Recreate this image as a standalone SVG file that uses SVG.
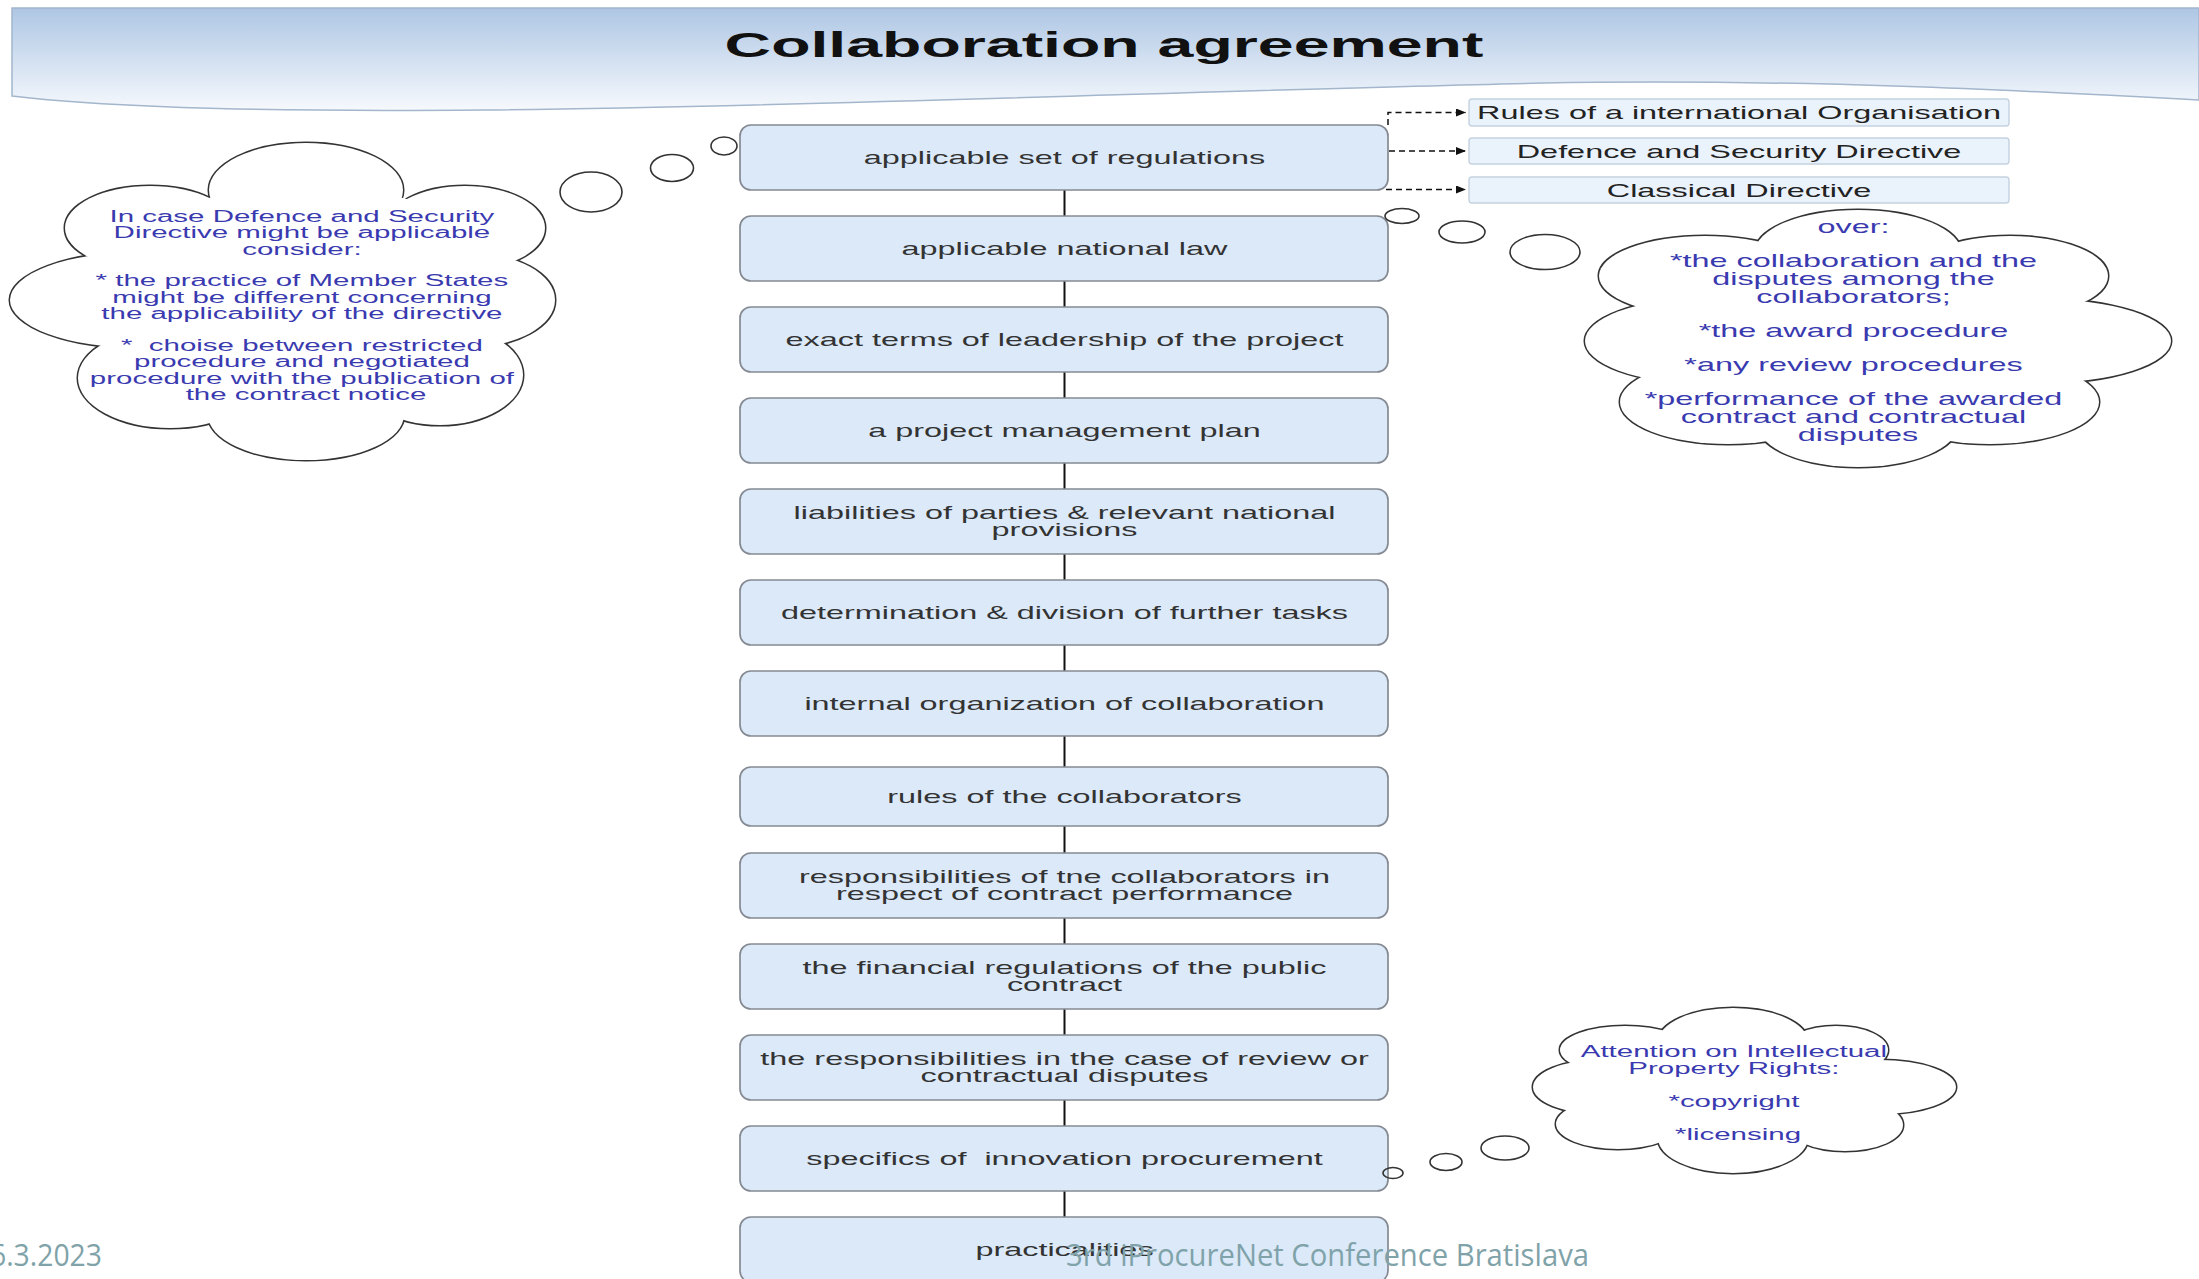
<svg xmlns="http://www.w3.org/2000/svg" xmlns:xlink="http://www.w3.org/1999/xlink" width="2199" height="1279" viewBox="0 0 2199 1279">
<style>
  .box{fill:#dbe9f9;stroke:#858a92;stroke-width:1.7}
  .rbox{fill:#eaf2fb;stroke:#c5d2e0;stroke-width:1.4}
  .bt{font-family:"Liberation Sans",Arial,sans-serif;font-size:17.8px;fill:#333;text-anchor:middle}
  .rt{font-family:"Liberation Sans",Arial,sans-serif;font-size:17.8px;fill:#222;text-anchor:middle}
  .ct{font-family:"Liberation Sans",Arial,sans-serif;font-size:16.2px;fill:#3a3ab0;text-anchor:middle}
  .ctl{font-family:"Liberation Sans",Arial,sans-serif;font-size:17.8px;fill:#3a3ab0;text-anchor:middle}
  .title{font-family:"Liberation Sans",Arial,sans-serif;font-size:35.4px;font-weight:bold;fill:#111;text-anchor:middle}
  .footer{font-family:"Open Sans","Liberation Sans",sans-serif;font-size:31px;fill:#7fa3a9}
  .conn{stroke:#111;stroke-width:2;fill:none}
  .dash{stroke:#111;stroke-width:1.5;stroke-dasharray:6 4;fill:none}
  .cloud-stroke{fill:#fff;stroke:#333;stroke-width:3}
  .cloud-fill{fill:#fff;stroke:none}
  .bubble{fill:none;stroke:#333;stroke-width:1.6}
</style>
<defs>
  <linearGradient id="bannerGrad" x1="0" y1="0" x2="0" y2="1">
    <stop offset="0" stop-color="#aec6e4"/>
    <stop offset="1" stop-color="#f6f9fd"/>
  </linearGradient>
  <marker id="arrow" viewBox="0 0 10 8" refX="10" refY="4" markerWidth="11" markerHeight="8" markerUnits="userSpaceOnUse" orient="auto">
    <path d="M0,0 L10,4 L0,8 z" fill="#111"/>
  </marker>
  <g id="lobesL">
    <ellipse cx="306" cy="190" rx="97" ry="47"/>
    <ellipse cx="465" cy="228" rx="80" ry="42"/>
    <ellipse cx="470" cy="300" rx="85" ry="47"/>
    <ellipse cx="440" cy="375" rx="83" ry="50"/>
    <ellipse cx="306" cy="415" rx="98" ry="45"/>
    <ellipse cx="170" cy="378" rx="92" ry="50"/>
    <ellipse cx="140" cy="300" rx="130" ry="48"/>
    <ellipse cx="150" cy="228" rx="85" ry="42"/>
  </g>
  <g id="lobesR">
    <ellipse cx="1858" cy="252" rx="103" ry="42"/>
    <ellipse cx="2010" cy="276" rx="98" ry="40"/>
    <ellipse cx="2040" cy="341" rx="131" ry="42"/>
    <ellipse cx="1990" cy="402" rx="109" ry="42"/>
    <ellipse cx="1858" cy="425" rx="100" ry="42"/>
    <ellipse cx="1728" cy="402" rx="108" ry="42"/>
    <ellipse cx="1700" cy="341" rx="115" ry="42"/>
    <ellipse cx="1705" cy="276" rx="106" ry="40"/>
  </g>
  <g id="lobesB">
    <ellipse cx="1733" cy="1042" rx="75" ry="34"/>
    <ellipse cx="1836" cy="1050" rx="52" ry="24"/>
    <ellipse cx="1880" cy="1087" rx="76" ry="27"/>
    <ellipse cx="1845" cy="1125" rx="58" ry="26"/>
    <ellipse cx="1733" cy="1138" rx="75" ry="35"/>
    <ellipse cx="1618" cy="1124" rx="62" ry="25"/>
    <ellipse cx="1600" cy="1087" rx="67" ry="27"/>
    <ellipse cx="1625" cy="1050" rx="65" ry="24"/>
  </g>
</defs>

<rect width="2199" height="1279" fill="#fff"/>

<g id="title">
  <path d="M12,8 H2199 V100 C2050,92 1800,78 1543,83 C1000,95 300,130 12,96 Z" fill="url(#bannerGrad)" stroke="#a3b6cc" stroke-width="1.5"/>
  <text class="title" transform="translate(1104,57) scale(1.82,1)">Collaboration agreement</text>
</g>

<g id="connectors">
  <line class="conn" x1="1064.5" y1="190" x2="1064.5" y2="216"/>
  <line class="conn" x1="1064.5" y1="281" x2="1064.5" y2="307"/>
  <line class="conn" x1="1064.5" y1="372" x2="1064.5" y2="398"/>
  <line class="conn" x1="1064.5" y1="463" x2="1064.5" y2="489"/>
  <line class="conn" x1="1064.5" y1="554" x2="1064.5" y2="580"/>
  <line class="conn" x1="1064.5" y1="645" x2="1064.5" y2="671"/>
  <line class="conn" x1="1064.5" y1="736" x2="1064.5" y2="767"/>
  <line class="conn" x1="1064.5" y1="826" x2="1064.5" y2="853"/>
  <line class="conn" x1="1064.5" y1="918" x2="1064.5" y2="944"/>
  <line class="conn" x1="1064.5" y1="1009" x2="1064.5" y2="1035"/>
  <line class="conn" x1="1064.5" y1="1100" x2="1064.5" y2="1126"/>
  <line class="conn" x1="1064.5" y1="1191" x2="1064.5" y2="1217"/>
  <path class="dash" d="M1388,125 V112.5 H1466" marker-end="url(#arrow)"/>
  <path class="dash" d="M1389,151 H1466" marker-end="url(#arrow)"/>
  <path class="dash" d="M1386,189.5 H1466" marker-end="url(#arrow)"/>
</g>

<g id="n1"><rect class="box" x="740" y="125" width="648" height="65" rx="11"/>
  <text class="bt" transform="translate(1064.5,164) scale(1.82,1)">applicable set of regulations</text></g>
<g id="n2"><rect class="box" x="740" y="216" width="648" height="65" rx="11"/>
  <text class="bt" transform="translate(1064.5,255) scale(1.82,1)">applicable national law</text></g>
<g id="n3"><rect class="box" x="740" y="307" width="648" height="65" rx="11"/>
  <text class="bt" transform="translate(1064.5,346) scale(1.82,1)">exact terms of leadership of the project</text></g>
<g id="n4"><rect class="box" x="740" y="398" width="648" height="65" rx="11"/>
  <text class="bt" transform="translate(1064.5,437) scale(1.82,1)">a project management plan</text></g>
<g id="n5"><rect class="box" x="740" y="489" width="648" height="65" rx="11"/>
  <text class="bt" transform="translate(1064.5,518.5) scale(1.82,1)"><tspan x="0" y="0">liabilities of parties &amp; relevant national</tspan><tspan x="0" y="17.4">provisions</tspan></text></g>
<g id="n6"><rect class="box" x="740" y="580" width="648" height="65" rx="11"/>
  <text class="bt" transform="translate(1064.5,619) scale(1.82,1)">determination &amp; division of further tasks</text></g>
<g id="n7"><rect class="box" x="740" y="671" width="648" height="65" rx="11"/>
  <text class="bt" transform="translate(1064.5,710) scale(1.82,1)">internal organization of collaboration</text></g>
<g id="n8"><rect class="box" x="740" y="767" width="648" height="59" rx="11"/>
  <text class="bt" transform="translate(1064.5,803) scale(1.82,1)">rules of the collaborators</text></g>
<g id="n9"><rect class="box" x="740" y="853" width="648" height="65" rx="11"/>
  <text class="bt" transform="translate(1064.5,882.5) scale(1.82,1)"><tspan x="0" y="0">responsibilities of tne collaborators in</tspan><tspan x="0" y="17.4">respect of contract performance</tspan></text></g>
<g id="n10"><rect class="box" x="740" y="944" width="648" height="65" rx="11"/>
  <text class="bt" transform="translate(1064.5,973.5) scale(1.82,1)"><tspan x="0" y="0">the financial regulations of the public</tspan><tspan x="0" y="17.4">contract</tspan></text></g>
<g id="n11"><rect class="box" x="740" y="1035" width="648" height="65" rx="11"/>
  <text class="bt" transform="translate(1064.5,1064.5) scale(1.82,1)"><tspan x="0" y="0">the responsibilities in the case of review or</tspan><tspan x="0" y="17.4">contractual disputes</tspan></text></g>
<g id="n12"><rect class="box" x="740" y="1126" width="648" height="65" rx="11"/>
  <text class="bt" xml:space="preserve" transform="translate(1064.5,1165) scale(1.82,1)">specifics of  innovation procurement</text></g>
<g id="n13"><rect class="box" x="740" y="1217" width="648" height="65" rx="11"/>
  <text class="bt" transform="translate(1064.5,1256) scale(1.82,1)">practicalities</text></g>

<g id="r1"><rect class="rbox" x="1469" y="99" width="540" height="27" rx="3"/>
  <text class="rt" transform="translate(1739,118.5) scale(1.82,1)">Rules of a international Organisation</text></g>
<g id="r2"><rect class="rbox" x="1469" y="138" width="540" height="26" rx="3"/>
  <text class="rt" transform="translate(1739,157.5) scale(1.82,1)">Defence and Security Directive</text></g>
<g id="r3"><rect class="rbox" x="1469" y="177" width="540" height="26" rx="3"/>
  <text class="rt" transform="translate(1739,196.5) scale(1.82,1)">Classical Directive</text></g>

<g id="cloud-left">
  <ellipse class="bubble" cx="591" cy="192" rx="31" ry="20"/>
  <ellipse class="bubble" cx="672" cy="168" rx="21.5" ry="13.5"/>
  <ellipse class="bubble" cx="724" cy="146" rx="13" ry="9"/>
  <use xlink:href="#lobesL" class="cloud-stroke"/>
  <use xlink:href="#lobesL" class="cloud-fill"/>
  <ellipse class="cloud-fill" cx="306" cy="300" rx="210" ry="115"/>
  <text class="ct" transform="translate(306,0) scale(1.82,1)">
    <tspan x="0" y="222">In case Defence and Security</tspan>
    <tspan x="0" y="238.5">Directive might be applicable</tspan>
    <tspan x="0" y="255">consider:</tspan>
    <tspan x="0" y="286.5">* the practice of Member States</tspan>
    <tspan x="0" y="303">might be different concerning</tspan>
    <tspan x="0" y="319.5">the applicability of the directive</tspan>
    <tspan x="0" y="351" xml:space="preserve">*  choise between restricted</tspan>
    <tspan x="0" y="367.5">procedure and negotiated</tspan>
    <tspan x="0" y="384">procedure with the publication of</tspan>
    <tspan x="0" y="400.5">the contract notice</tspan>
  </text>
</g>

<g id="cloud-right">
  <ellipse class="bubble" cx="1402" cy="216" rx="17" ry="7.5"/>
  <ellipse class="bubble" cx="1462" cy="232" rx="23" ry="11"/>
  <ellipse class="bubble" cx="1545" cy="252" rx="35" ry="17.5"/>
  <use xlink:href="#lobesR" class="cloud-stroke"/>
  <use xlink:href="#lobesR" class="cloud-fill"/>
  <ellipse class="cloud-fill" cx="1870" cy="340" rx="230" ry="100"/>
  <text class="ctl" transform="translate(1858,0) scale(1.82,1)">
    <tspan x="0" y="233">over:</tspan>
    <tspan x="0" y="267">*the collaboration and the</tspan>
    <tspan x="0" y="284.8">disputes among the</tspan>
    <tspan x="0" y="302.6">collaborators;</tspan>
    <tspan x="0" y="336.6">*the award procedure</tspan>
    <tspan x="0" y="370.6">*any review procedures</tspan>
    <tspan x="0" y="405">*performance of the awarded</tspan>
    <tspan x="0" y="422.8">contract and contractual</tspan>
    <tspan x="0" y="440.6">disputes</tspan>
  </text>
</g>

<g id="cloud-bottom">
  <ellipse class="bubble" cx="1393" cy="1173" rx="10" ry="5.5"/>
  <ellipse class="bubble" cx="1446" cy="1162" rx="16" ry="8.5"/>
  <ellipse class="bubble" cx="1505" cy="1148" rx="24" ry="12"/>
  <use xlink:href="#lobesB" class="cloud-stroke"/>
  <use xlink:href="#lobesB" class="cloud-fill"/>
  <ellipse class="cloud-fill" cx="1740" cy="1090" rx="155" ry="55"/>
  <text class="ct" transform="translate(1738,0) scale(1.82,1)">
    <tspan x="0" y="1057">Attention on Intellectual</tspan>
    <tspan x="0" y="1074">Property Rights:</tspan>
    <tspan x="0" y="1107">*copyright</tspan>
    <tspan x="0" y="1140">*licensing</tspan>
  </text>
</g>

<g id="footer">
  <text class="footer" x="-10" y="1266" textLength="112" lengthAdjust="spacingAndGlyphs">6.3.2023</text>
  <text class="footer" x="1066" y="1266" textLength="523" lengthAdjust="spacingAndGlyphs">3rd iProcureNet Conference Bratislava</text>
</g>
</svg>
